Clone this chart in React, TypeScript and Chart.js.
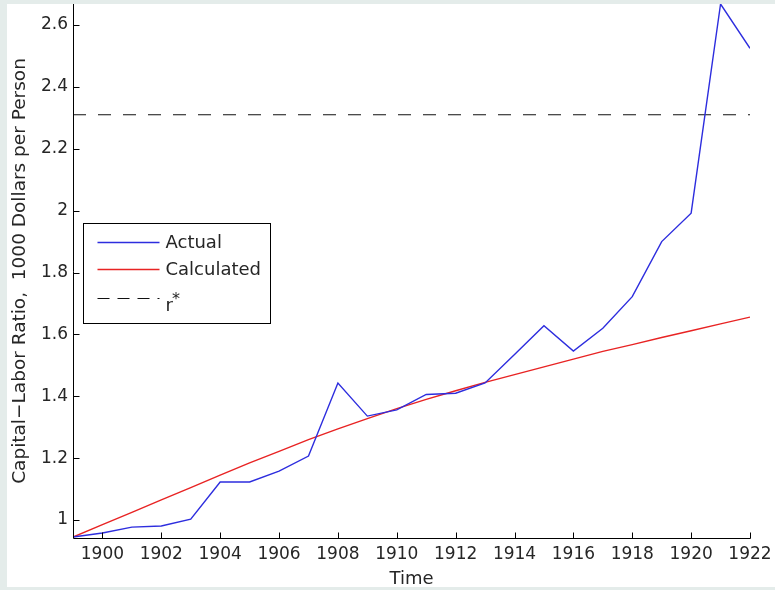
import { useEffect, useRef } from "react";
import { Chart, registerables } from "chart.js";

Chart.register(...registerables);

// Yearly observations
const years = [
  1899, 1900, 1901, 1902, 1903, 1904, 1905, 1906, 1907, 1908, 1909, 1910,
  1911, 1912, 1913, 1914, 1915, 1916, 1917, 1918, 1919, 1920, 1921, 1922,
];
const actual = [
  0.945, 0.958, 0.977, 0.981, 1.003, 1.123, 1.123, 1.158, 1.207, 1.443, 1.336, 1.356,
  1.406, 1.41, 1.443, 1.535, 1.628, 1.546, 1.62, 1.722, 1.9, 1.992, 2.668, 2.525,
];
const calculated = [
  0.945, 0.985, 1.025, 1.065, 1.105, 1.145, 1.185, 1.222, 1.26, 1.295, 1.328, 1.36,
  1.39, 1.418, 1.445, 1.47, 1.495, 1.52, 1.545, 1.567, 1.59, 1.612, 1.634, 1.656,
];
const steadyState = 2.31;

// Axis ticks and limits
const xTicks = [1900, 1902, 1904, 1906, 1908, 1910, 1912, 1914, 1916, 1918, 1920, 1922];
const yTicks = [1, 1.2, 1.4, 1.6, 1.8, 2, 2.2, 2.4, 2.6];
const yAxisMin = 0.942;
const yAxisMax = 2.668;

const FONT = "'DejaVu Sans', sans-serif";
const TEXT = "#262626";

// Inward tick marks, left/bottom axis lines and the boxed legend
const matlabFrame = {
  id: "matlabFrame",
  afterDatasetsDraw(chart: any) {
    const { ctx, chartArea, scales } = chart;
    const { left, right, top, bottom } = chartArea;
    const tick = 6;
    ctx.save();
    ctx.strokeStyle = "#000";
    ctx.lineWidth = 1;
    ctx.setLineDash([]);
    ctx.beginPath();
    const lx = Math.round(left) + 0.5;
    const by = Math.round(bottom) + 0.5;
    ctx.moveTo(lx, top);
    ctx.lineTo(lx, by);
    ctx.lineTo(Math.round(right) + 0.5, by);
    scales.x.ticks.forEach((t: any) => {
      const px = Math.round(scales.x.getPixelForValue(t.value)) + 0.5;
      ctx.moveTo(px, by);
      ctx.lineTo(px, by - tick);
    });
    scales.y.ticks.forEach((t: any) => {
      const py = Math.round(scales.y.getPixelForValue(t.value)) + 0.5;
      ctx.moveTo(lx, py);
      ctx.lineTo(lx + tick, py);
    });
    ctx.stroke();

    // legend box
    const bx = Math.round(left) + 10.5;
    const bw = 187;
    const bh = 100;
    const byTop = Math.round(top) + 219.5;
    ctx.fillStyle = "#fff";
    ctx.fillRect(bx, byTop, bw, bh);
    ctx.strokeRect(bx, byTop, bw, bh);

    const rows = [19, 46, 75];
    chart.data.datasets.forEach((ds: any, i: number) => {
      const ly = byTop + rows[i];
      ctx.save();
      ctx.strokeStyle = ds.borderColor;
      ctx.lineWidth = ds.borderWidth;
      ctx.setLineDash(ds.legendDash || ds.borderDash || []);
      ctx.beginPath();
      ctx.moveTo(bx + 14, ly);
      ctx.lineTo(bx + 76, ly);
      ctx.stroke();
      ctx.restore();

      ctx.fillStyle = TEXT;
      ctx.textAlign = "left";
      if (ds.label === "r*") {
        ctx.font = `18px ${FONT}`;
        ctx.textBaseline = "alphabetic";
        ctx.fillText("r", bx + 82, ly + 12);
        const rw = ctx.measureText("r").width;
        ctx.font = `16px ${FONT}`;
        ctx.fillText("*", bx + 82 + rw - 1, ly + 5);
      } else {
        ctx.font = `18px ${FONT}`;
        ctx.textBaseline = "middle";
        ctx.fillText(ds.label, bx + 82, ly + 1);
      }
    });
    ctx.restore();
  },
};

const formatTick = (v: number) => String(Number(v.toFixed(2)));

export default function App() {
  const canvasRef = useRef<HTMLCanvasElement | null>(null);

  useEffect(() => {
    const canvas = canvasRef.current;
    if (!canvas) return;
    const chart = new Chart(canvas, {
      type: "line",
      data: {
        datasets: [
          {
            label: "Actual",
            data: years.map((x, i) => ({ x, y: actual[i] })),
            borderColor: "rgb(45,45,222)",
            borderWidth: 1.4,
            pointRadius: 0,
            tension: 0,
            fill: false,
          },
          {
            label: "Calculated",
            data: years.map((x, i) => ({ x, y: calculated[i] })),
            borderColor: "rgb(232,35,35)",
            borderWidth: 1.4,
            pointRadius: 0,
            tension: 0,
            fill: false,
          },
          {
            label: "r*",
            data: [
              { x: years[0], y: steadyState },
              { x: years[years.length - 1], y: steadyState },
            ],
            borderColor: "#111",
            borderWidth: 1.2,
            borderDash: [13, 12],
            legendDash: [12, 8],
            pointRadius: 0,
            fill: false,
          } as any,
        ],
      },
      options: {
        responsive: false,
        animation: false,
        layout: { padding: { left: 0, top: 0, right: 25, bottom: 0 } },
        plugins: {
          legend: { display: false },
          tooltip: { enabled: false },
        },
        scales: {
          x: {
            type: "linear",
            min: years[0],
            max: years[years.length - 1],
            grid: { display: false, drawTicks: false },
            border: { display: false },
            afterBuildTicks: (scale: any) => {
              scale.ticks = xTicks.map((value) => ({ value }));
            },
            afterFit: (scale: any) => {
              scale.height = 49;
              scale.paddingLeft = 0;
              scale.paddingRight = 0;
              scale.paddingTop = 0;
              scale.paddingBottom = 0;
            },
            ticks: {
              autoSkip: false,
              maxRotation: 0,
              padding: 6,
              color: TEXT,
              font: { family: FONT, size: 17 },
              callback: (v: any) => String(v),
            },
            title: {
              display: true,
              text: "Time",
              color: TEXT,
              font: { family: FONT, size: 18, lineHeight: 1 },
              padding: { top: 0, bottom: -1 },
            },
          },
          y: {
            type: "linear",
            min: yAxisMin,
            max: yAxisMax,
            grid: { display: false, drawTicks: false },
            border: { display: false },
            afterBuildTicks: (scale: any) => {
              scale.ticks = yTicks.map((value) => ({ value }));
            },
            afterFit: (scale: any) => {
              scale.width = 66;
              scale.paddingLeft = 0;
              scale.paddingRight = 0;
              scale.paddingTop = 0;
              scale.paddingBottom = 0;
            },
            ticks: {
              padding: 5,
              color: TEXT,
              font: { family: FONT, size: 17 },
              callback: (v: any) => formatTick(Number(v)),
            },
            title: {
              display: true,
              text: "Capital\u2212Labor Ratio,  1000 Dollars per Person",
              color: TEXT,
              font: { family: FONT, size: 18.5 },
              padding: { top: 2, bottom: 0 },
            },
          },
        },
      },
      plugins: [matlabFrame],
    });
    return () => chart.destroy();
  }, []);

  return (
    <div
      style={{
        position: "fixed",
        left: 0,
        top: 0,
        width: 775,
        height: 590,
        background: "rgb(228,236,234)",
      }}
    >
      <div
        style={{
          position: "absolute",
          left: 7,
          top: 4,
          width: 768,
          height: 583,
          background: "#fff",
          overflow: "hidden",
        }}
      >
        <canvas ref={canvasRef} width={768} height={583} style={{ display: "block" }} />
      </div>
    </div>
  );
}
